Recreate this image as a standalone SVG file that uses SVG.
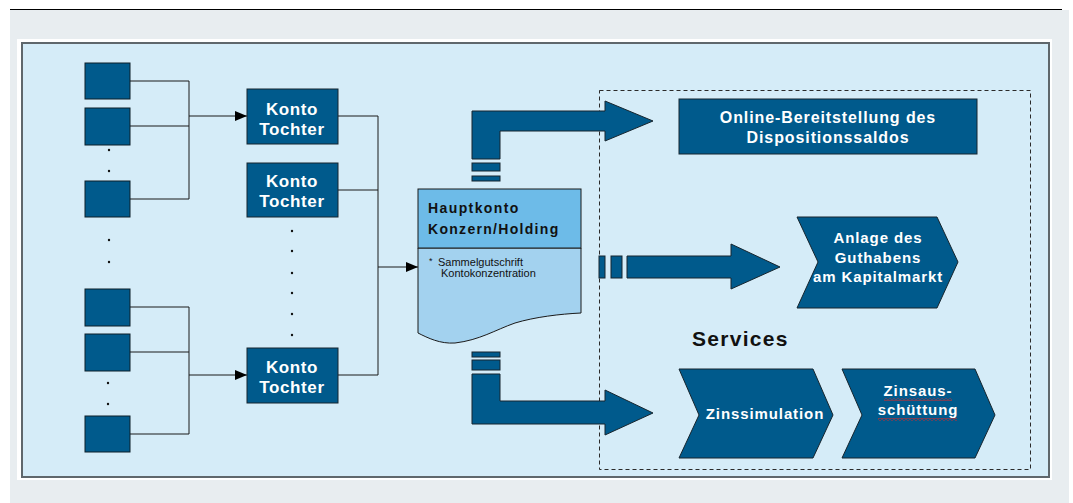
<svg xmlns="http://www.w3.org/2000/svg" width="1073" height="503" viewBox="0 0 1073 503">
<style>
.sq{fill:#005a8c;stroke:#0d1e28;stroke-width:1}
.box{fill:#005a8c;stroke:#16252e;stroke-width:1}
.wt{font-family:"Liberation Sans",Arial,sans-serif;font-weight:bold;fill:#ffffff;text-anchor:middle}
.kt{font-size:17px;letter-spacing:0.6px}
.st{font-size:15px;letter-spacing:0.9px}
.ln{fill:none;stroke:#1a1a1a;stroke-width:1}
.big{fill:#005a8c;stroke:#16252e;stroke-width:1}
.dot{fill:#111}
</style>
<defs>
<marker id="ah" viewBox="0 0 12 10" refX="12" refY="5" markerWidth="12" markerHeight="10" markerUnits="userSpaceOnUse" orient="auto">
<path d="M0,0 L12,5 L0,10 Z" fill="#000"/>
</marker>
<pattern id="squig" width="4" height="3" patternUnits="userSpaceOnUse">
<path d="M0,0.6 L2,2.4 L4,0.6" fill="none" stroke="#d42a2a" stroke-width="1"/>
</pattern>
</defs>
<rect x="0" y="0" width="1073" height="503" fill="#ffffff"/>
<rect x="10" y="10" width="1059" height="493" fill="#e8edf0"/>
<line x1="10" y1="9.5" x2="1062" y2="9.5" stroke="#000" stroke-width="1"/>
<rect x="17" y="39" width="1035" height="441" fill="#ffffff"/>
<rect x="22" y="43" width="1027" height="434" fill="#d5ecf8" stroke="#5f676c" stroke-width="2"/>
<rect x="599.5" y="90.5" width="431" height="379" fill="none" stroke="#2a2a2a" stroke-width="1" stroke-dasharray="4,3"/>

<g id="connectors">
<path class="ln" d="M130,81 H189 V199 H130 M130,126 H189"/>
<path class="ln" d="M189,116 H247" marker-end="url(#ah)"/>
<path class="ln" d="M130,307 H189 V434 H130 M130,352 H189"/>
<path class="ln" d="M189,375 H247" marker-end="url(#ah)"/>
<path class="ln" d="M338,116 H378 V375 H338 M338,190 H378"/>
<path class="ln" d="M378,267 H418" marker-end="url(#ah)"/>
<path class="big" d="M472,159 V111 H605 V101 L653,121 L605,141 V131 H500 V159 Z"/>
<rect class="big" x="472" y="163" width="28" height="8"/>
<rect class="big" x="472" y="176" width="28" height="5"/>
<rect class="big" x="472" y="352" width="28" height="5"/>
<rect class="big" x="472" y="360" width="28" height="10"/>
<path class="big" d="M472,374 H500 V401 H605 V390 L653,413 L605,435 V424 H472 Z"/>
<rect class="big" x="599" y="256" width="6" height="22"/>
<rect class="big" x="611" y="256" width="11" height="22"/>
<path class="big" d="M627,256 H731 V244 L780,267 L731,289 V278 H627 Z"/>
</g>

<g id="source-accounts">
<rect class="sq" x="85" y="63" width="45" height="36"/>
<rect class="sq" x="85" y="108" width="45" height="37"/>
<rect class="sq" x="85" y="181" width="45" height="36"/>
<rect class="sq" x="85" y="289" width="45" height="37"/>
<rect class="sq" x="85" y="334" width="45" height="37"/>
<rect class="sq" x="85" y="416" width="45" height="36"/>
<circle class="dot" cx="109" cy="150" r="1.2"/>
<circle class="dot" cx="109" cy="171" r="1.2"/>
<circle class="dot" cx="109" cy="240" r="1.2"/>
<circle class="dot" cx="109" cy="262" r="1.2"/>
<circle class="dot" cx="108" cy="383" r="1.2"/>
<circle class="dot" cx="108" cy="404" r="1.2"/>
</g>

<g id="konto-tochter-1">
<rect class="box" x="247" y="89" width="91" height="55"/>
<text class="wt kt" x="292" y="115">Konto</text>
<text class="wt kt" x="292" y="135">Tochter</text>
</g>
<g id="konto-tochter-2">
<rect class="box" x="247" y="163" width="91" height="54"/>
<text class="wt kt" x="292" y="187">Konto</text>
<text class="wt kt" x="292" y="207">Tochter</text>
</g>
<g id="konto-dots">
<circle class="dot" cx="292" cy="231" r="1.2"/>
<circle class="dot" cx="292" cy="251" r="1.2"/>
<circle class="dot" cx="292" cy="273" r="1.2"/>
<circle class="dot" cx="292" cy="293" r="1.2"/>
<circle class="dot" cx="292" cy="314" r="1.2"/>
<circle class="dot" cx="292" cy="335" r="1.2"/>
</g>
<g id="konto-tochter-3">
<rect class="box" x="247" y="348" width="91" height="55"/>
<text class="wt kt" x="292" y="373">Konto</text>
<text class="wt kt" x="292" y="393">Tochter</text>
</g>

<g id="hauptkonto">
<path d="M418,248 H581 V313 C560,314 535,317 515,323 C495,330 480,340 455,343 C440,344 428,338 418,333 Z" fill="#a3d2ef" stroke="#1a1a1a" stroke-width="1"/>
<rect x="418" y="189" width="163" height="59" fill="#6dbbe8" stroke="#1a1a1a" stroke-width="1"/>
<text x="428" y="213" font-family="Liberation Sans, Arial, sans-serif" font-weight="bold" font-size="14" letter-spacing="1.4" fill="#111">Hauptkonto</text>
<text x="428" y="234" font-family="Liberation Sans, Arial, sans-serif" font-weight="bold" font-size="14" letter-spacing="1.3" fill="#111">Konzern/Holding</text>
<text x="429" y="264" font-family="Liberation Sans, Arial, sans-serif" font-size="9" fill="#111">*</text>
<text x="438" y="266" font-family="Liberation Sans, Arial, sans-serif" font-size="11" fill="#111">Sammelgutschrift</text>
<text x="441" y="277" font-family="Liberation Sans, Arial, sans-serif" font-size="11" fill="#111">Kontokonzentration</text>
</g>

<g id="online">
<rect class="box" x="679" y="99" width="298" height="55"/>
<text class="wt" x="828" y="123" font-size="16" letter-spacing="0.9">Online-Bereitstellung des</text>
<text class="wt" x="828" y="143" font-size="16" letter-spacing="0.9">Dispositionssaldos</text>
</g>

<g id="anlage">
<path class="box" d="M797,217 H937 L958,262 L937,308 H797 L818,262 Z"/>
<text class="wt st" x="878" y="243">Anlage des</text>
<text class="wt st" x="878" y="263">Guthabens</text>
<text class="wt st" x="878" y="282">am Kapitalmarkt</text>
</g>

<g id="services-label">
<text x="692" y="346" font-family="Liberation Sans, Arial, sans-serif" font-weight="bold" font-size="21" letter-spacing="1.3" fill="#111">Services</text>
</g>

<g id="zinssimulation">
<path class="box" d="M679,369 H813 L833,415 L813,458 H679 L699,415 Z"/>
<text class="wt st" x="765" y="419">Zinssimulation</text>
</g>

<g id="zinsausschuettung">
<path class="box" d="M842,369 H975 L995,415 L975,458 H842 L862,415 Z"/>
<text class="wt st" x="918" y="396">Zinsaus-</text>
<text class="wt st" x="918" y="415">schüttung</text>
<rect x="884" y="398" width="68" height="3" fill="url(#squig)"/>
<rect x="878" y="418" width="79" height="3" fill="url(#squig)"/>
</g>
</svg>
